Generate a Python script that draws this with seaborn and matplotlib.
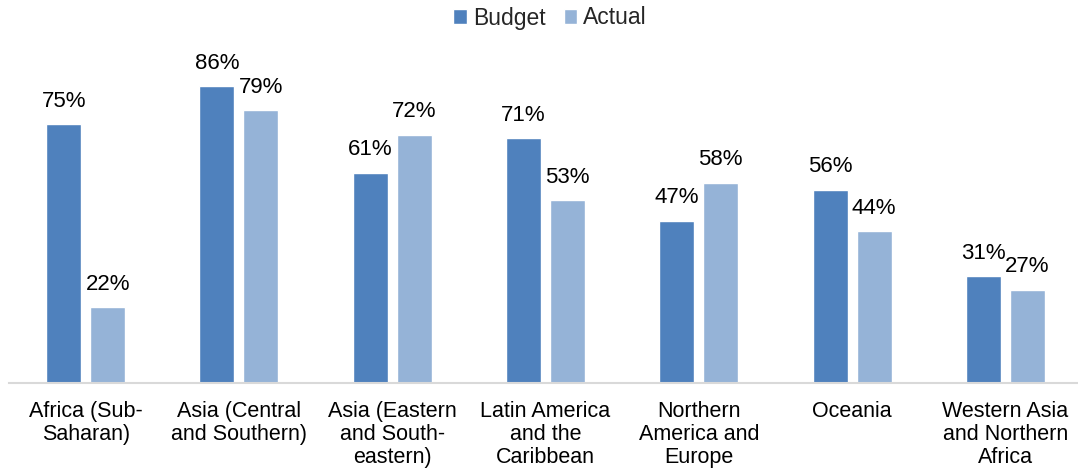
import matplotlib
matplotlib.use("Agg")
import matplotlib.pyplot as plt
import seaborn as sns
import pandas as pd

categories = ["Africa (Sub-\nSaharan)", "Asia (Central\nand Southern)", "Asia (Eastern\nand South-\neastern)",
              "Latin America\nand the\nCaribbean", "Northern\nAmerica and\nEurope", "Oceania",
              "Western Asia\nand Northern\nAfrica"]
budget = [75, 86, 61, 71, 47, 56, 31]
actual = [22, 79, 72, 53, 58, 44, 27]
series = ["Budget", "Actual"]
colors = ["#4F81BD", "#95B3D7"]

df = pd.DataFrame({
    "category": categories * 2,
    "series": [series[0]] * len(categories) + [series[1]] * len(categories),
    "value": budget + actual,
})

sns.set_theme(style="white")
plt.rcParams["font.family"] = ["Liberation Sans", "DejaVu Sans"]

fig = plt.figure(figsize=(10.78, 4.74), dpi=100)
ax = fig.add_axes([9 / 1078, 91 / 474, 1073 / 1078, (383 - 38) / 474])

sns.barplot(data=df, x="category", y="value", hue="series", palette=colors,
            saturation=1, width=0.574, gap=0.205, ax=ax, legend=True)

for cont in ax.containers:
    ax.bar_label(cont, labels=[f"{v:.0f}%" for v in cont.datavalues], padding=9, fontsize=16, color="#000000")

ax.set_ylim(0, 100)
ax.set_xlim(-0.5, len(categories) - 0.5)
ax.set_xlabel("")
ax.set_ylabel("")
ax.set_yticks([])
ax.tick_params(axis="x", length=0, labelsize=15.5, pad=13, colors="#000000")
for lbl in ax.get_xticklabels():
    lbl.set_linespacing(1.12)
for s in ["top", "right", "left"]:
    ax.spines[s].set_visible(False)
ax.spines["bottom"].set_color("#D9D9D9")
ax.spines["bottom"].set_linewidth(1.5)

ax.legend(loc="center", ncol=2, frameon=False,
          fontsize=16.5, handlelength=0.6, handleheight=0.6, handletextpad=0.25, columnspacing=0.8)
leg = ax.get_legend()
leg.set_bbox_to_anchor((550 / 1078, 1 - 18 / 474), transform=fig.transFigure)

fig.savefig("out.png", dpi=100)
